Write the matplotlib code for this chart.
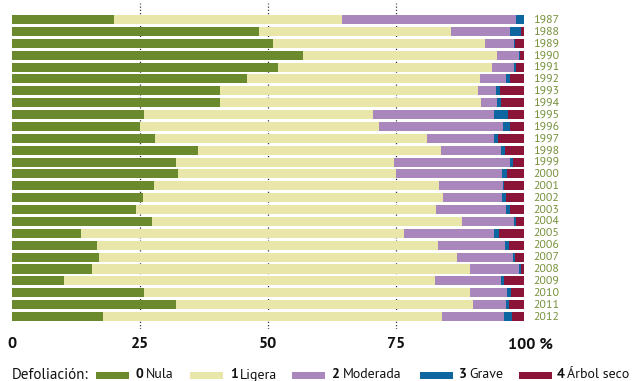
import matplotlib
matplotlib.use("Agg")
import matplotlib.pyplot as plt
import numpy as np
from matplotlib.patches import Rectangle
from matplotlib.transforms import ScaledTranslation

plt.rcParams['font.family'] = ['PT Sans', 'DejaVu Sans']

years = list(range(1987, 2013))

# porcentaje de árboles por clase de defoliación
nula = [20.0, 48.2, 51.0, 56.8, 52.0, 45.9, 40.6, 40.6, 25.8, 25.0, 27.9, 36.3, 32.0,
        32.4, 27.7, 25.6, 24.2, 27.3, 13.5, 16.6, 17.0, 15.6, 10.2, 25.8, 32.0, 17.8]
ligera = [44.5, 37.5, 41.4, 37.9, 41.8, 45.5, 50.4, 51.0, 44.7, 46.7, 53.2, 47.5, 42.6,
          42.6, 55.7, 58.6, 58.6, 60.6, 63.1, 66.6, 69.9, 73.9, 72.4, 63.7, 58.0, 66.2]
moderada = [33.9, 11.6, 5.6, 4.3, 4.3, 5.1, 3.5, 3.1, 23.6, 24.2, 13.0, 11.7, 22.7,
            20.7, 12.5, 11.5, 13.7, 10.1, 17.5, 13.1, 11.0, 9.5, 12.9, 7.2, 6.5, 12.1]
grave = [1.6, 2.1, 0.2, 0.2, 0.4, 0.8, 0.8, 0.8, 2.8, 1.4, 0.8, 0.8, 0.6,
         1.0, 0.2, 0.8, 0.8, 0.4, 1.0, 0.8, 0.3, 0.4, 0.6, 0.8, 0.6, 1.6]
seco = [0.0, 0.6, 1.8, 0.8, 1.6, 2.7, 4.7, 4.5, 3.1, 2.7, 5.1, 3.7, 2.1,
        3.3, 3.9, 3.5, 2.7, 1.6, 4.9, 2.9, 1.8, 0.6, 3.9, 2.5, 2.9, 2.3]

series = [nula, ligera, moderada, grave, seco]
numbers = ['0', '1', '2', '3', '4']
names = ['Nula', 'Ligera', 'Moderada', 'Grave', 'Árbol seco']
colors = ['#6b8a2e', '#e8e6a8', '#a986bb', '#0e66a0', '#8a1538']

ticks = [0, 25, 50, 75, 100]
tick_labels = ['0', '25', '50', '75', '100 %']

W, H = 638, 381
fig = plt.figure(figsize=(W / 100, H / 100), dpi=100)
ax = fig.add_axes([12 / W, (H - 329) / H, 512 / W, 326 / H])

y = np.arange(len(years))
left = np.zeros(len(years))
for vals, col in zip(series, colors):
    vals = np.array(vals)
    ax.barh(y, vals, left=left, height=0.76, color=col, linewidth=0, zorder=2)
    left += vals

for t in ticks[1:-1]:
    ax.axvline(t, color='#333333', lw=0.9, ls=(0, (1, 1.6)), zorder=1)

ax.set_xlim(0, 100)
ax.set_ylim(len(years) - 1 + 1.05, -1.39)

for yi, yr in zip(y, years):
    ax.text(101.8, yi, str(yr), ha='left', va='center', fontsize=8.6,
            color='#77923c', clip_on=False)

ax.set_xticks(ticks)
ax.set_xticklabels(tick_labels, fontsize=11.5, fontweight='bold', color='#111111')
ax.set_yticks([])
ax.tick_params(axis='x', length=0, pad=6)
last = ax.get_xticklabels()[-1]
last.set_ha('left')
last.set_transform(last.get_transform() + ScaledTranslation(-16 / 100, 0, fig.dpi_scale_trans))
for s in ax.spines.values():
    s.set_visible(False)

# leyenda: cuadro de color, número en negrita y nombre de la clase
ly = (H - 375) / H
fig.text(12 / W, ly, 'Defoliación:', fontsize=10.8, va='center', ha='left', color='#111111')
patch_x = [96, 190, 292, 420, 519]
num_x = [136, 230, 332, 459, 557]
renderer = fig.canvas.get_renderer()
for px, nx, col, num, name in zip(patch_x, num_x, colors, numbers, names):
    fig.patches.append(Rectangle((px / W, (H - 379) / H), 33 / W, 7.5 / H,
                                 transform=fig.transFigure, color=col, linewidth=0))
    t = fig.text(nx / W, ly, num, fontsize=10, fontweight='bold',
                 va='center', ha='left', color='#111111')
    x1 = t.get_window_extent(renderer).x1
    fig.text((x1 + 2.5) / W, ly, name, fontsize=10, va='center', ha='left',
             color='#111111')

fig.savefig('out.png', dpi=100)
